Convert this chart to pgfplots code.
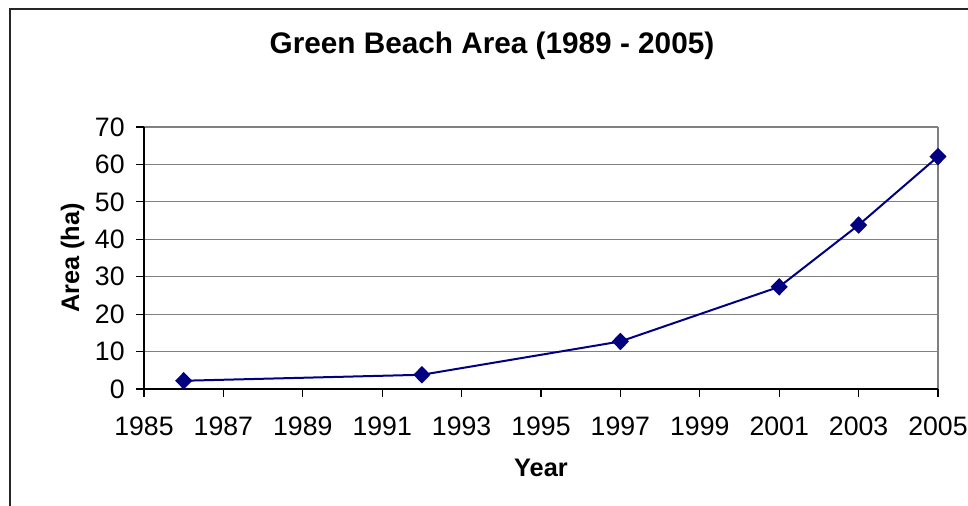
\documentclass[border=0pt]{standalone}
\usepackage{pgfplots}
\pgfplotsset{compat=1.18}
\usepackage{fontspec}
\setmainfont{Liberation Sans}
\definecolor{navy}{RGB}{0,0,128}
\definecolor{gridgray}{RGB}{128,128,128}
\begin{document}
\begin{tikzpicture}
\useasboundingbox (0,0) rectangle (726pt,379.5pt);
\draw[line width=1.5pt,black!85] (7.5pt,0) -- (7.5pt,372.75pt) -- (726pt,372.75pt);
\node[font=\fontsize{22.3}{25}\selectfont\bfseries] at (369pt,345pt) {Green Beach Area (1989 - 2005)};
\begin{axis}[
  at={(108pt,87.75pt)}, anchor=south west,
  scale only axis, width=595.5pt, height=196.5pt,
  xmin=1985, xmax=2005, ymin=0, ymax=70,
  xtick={1985,1987,...,2005}, ytick={0,10,...,70},
  xtick pos=lower, ytick pos=left,
  /pgf/number format/assume math mode=true,
  xticklabel style={/pgf/number format/1000 sep={}, font=\fontsize{20}{22}\selectfont, yshift=-11.5pt},
  yticklabel style={font=\fontsize{20}{22}\selectfont, xshift=-5pt},
  tick align=outside, major tick length=6pt,
  tick style={black, line width=0.8pt},
  axis line style={draw=none},
  ymajorgrids, grid style={gridgray, line width=0.8pt},
  xlabel={\textbf{Year}}, ylabel={\textbf{Area (ha)}},
  label style={font=\fontsize{19}{22}\selectfont},
  xlabel style={yshift=-10.5pt},
  ylabel style={yshift=1pt},
  clip=false,
]
\draw[gridgray, line width=1.2pt] (axis cs:2005,0) -- (axis cs:2005,70);
\draw[black, line width=1.2pt] (axis cs:1985,70) -- (axis cs:1985,0) -- (axis cs:2005,0);
\addplot[navy, line width=1.5pt, mark=diamond*, mark size=5.5pt, mark options={fill=navy, draw=navy, xscale=1.3}]
  coordinates {(1986,2.2) (1992,3.8) (1997,12.7) (2001,27.3) (2003,43.8) (2005,62.1)};
\end{axis}
\end{tikzpicture}
\end{document}
